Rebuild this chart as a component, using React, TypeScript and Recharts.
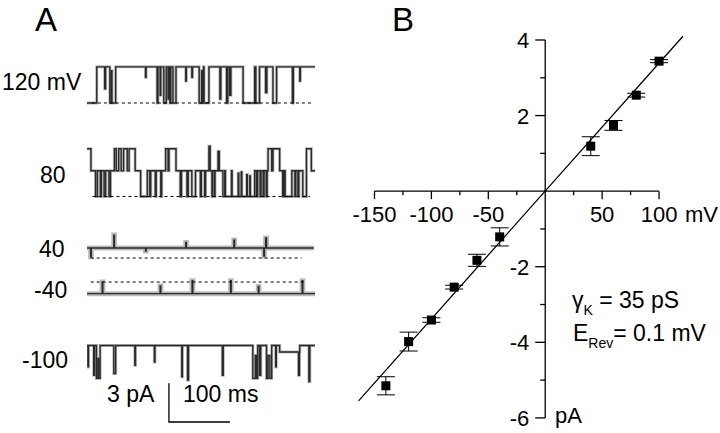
import React from 'react';
import { ComposedChart, Line, Scatter, ErrorBar, XAxis, YAxis } from 'recharts';

const FONT = '"Liberation Sans", Arial, Helvetica, sans-serif';

type Pt = [number, number];

// A: idealised single-channel records
// [time (ms), current (pA) measured from the closed level]
const trace120: Pt[] = [
  [0, 0], [16, 2.8], [29, 1.1], [30.5, 2.8], [37.5, 0], [40, 2.5], [41, 0], [47, 2.8],
  [96, 2.0], [97, 2.8], [115, 0], [116.5, 2.8], [120, 0.6], [121, 2.8], [126, 0], [130, 2.8],
  [133, 0.3], [134, 2.8], [136, 0], [137.5, 2.8], [141, 0], [146, 2.8], [162, 1.7], [163, 2.8],
  [172, 2.0], [173, 2.8], [184, 0], [188, 2.5], [189, 0], [191, 2.8], [192, 0], [200, 2.8],
  [218, 0.3], [219.5, 2.8], [229, 0], [231, 2.8], [234, 0.6], [236, 2.8], [256, 0], [275, 2.8],
  [277, 0], [283, 2.8], [293, 0.8], [295, 2.8], [305, 0], [311, 2.8], [337, 0], [338.5, 2.8],
  [349, 1.7], [350, 2.8], [374, 2.8],
];
const trace80: Pt[] = [
  [0, 3.7], [6.5, 2.0], [14, 0], [17, 2.0], [22, 0], [23.5, 2.0], [28, 0], [30.5, 2.0], [36, 0],
  [38.5, 2.0], [45, 3.7], [48, 2.0], [52, 3.7], [56, 2.0], [60, 3.7], [66, 2.0], [69, 3.7], [79, 2.0],
  [88, 0], [99, 2.0], [103, 0], [104.5, 2.0], [112, 0], [113.5, 2.0], [121, 0], [122.5, 2.0],
  [129, 3.7], [133, 2.0], [134.5, 3.7], [146, 2.0], [153, 0], [155, 2.0], [164, 0], [166, 2.0],
  [172, 0], [178, 2.0], [186, 0], [187.5, 2.0], [193, 0], [194.5, 2.0], [200, 3.9], [202, 2.0],
  [205, 0], [206, 2.0], [209, 0], [210, 2.0], [215, 3.5], [217, 2.0], [223, 0], [226, 2.0],
  [227, 0], [237, 2.0], [238, 0], [248, 1.8], [249, 0], [253, 1.9], [254, 0], [262, 1.7], [263, 0],
  [267, 1.6], [268, 0], [275, 2.0], [278, 0], [280, 2.0], [284, 0], [285.5, 2.0], [289, 0],
  [290.5, 2.0], [294, 0], [295.5, 2.0], [297, 3.7], [303, 2.0], [305, 3.7], [316, 2.0], [321, 0],
  [323, 2.0], [325, 0], [336, 2.0], [341, 0], [342.5, 2.0], [346, 0], [347.5, 2.0], [354, 0],
  [360, 3.7], [368, 2.0], [374, 2.0],
];
const trace40: Pt[] = [
  [0, 0.78], [6, 0.1], [7, 0.78], [44, 1.78], [45, 0.78], [96, 0.55], [97, 0.78], [162, 1.2],
  [163, 0.78], [241, 1.4], [242, 0.78], [290, 0.15], [291, 0.78], [293, 1.55], [294.5, 0.78],
  [372, 0.78],
];
const traceM40: Pt[] = [
  [0, -0.9], [25, 0], [26, -0.9], [120, -0.3], [121, -0.9], [172.5, 0.1], [173.5, -0.9],
  [235.5, 0.1], [236.5, -0.9], [281, -0.35], [282, -0.9], [353, 0.1], [354, -0.9], [374, -0.9],
];
const traceM100: Pt[] = [
  [0, 0], [1.5, -1.66], [2.5, 0], [11, -2.3], [12.5, 0], [15.5, -2.55], [18, -1.0], [19, -2.55],
  [21.5, 0], [44, -2.17], [47, 0], [78.5, -1.53], [79.5, 0], [110.5, -1.28], [111.5, 0],
  [155.5, -2.42], [156.5, 0], [165, -2.68], [166.5, 0], [222, -2.3], [223.5, 0], [272, -2.55],
  [276, -0.77], [278, -2.55], [280, 0], [283, -2.3], [285, 0], [294.5, -2.55], [297, -0.77],
  [300, -2.55], [303, 0], [309.5, -1.66], [310.5, 0], [316, -0.5], [347, -2.3], [348.5, -0.5],
  [349, 0], [364, -2.8], [365.5, 0], [374, 0],
];
const traces = [trace120, trace80, trace40, traceM40, traceM100];
const traceLabels = ['120 mV', '80', '40', '-40', '-100'];
// extent of the dashed closed-level lines (ms)
const closedSpans: Pt[] = [[8, 370], [9, 366], [6, 352], [6, 358]];
const scaleBarPA = 3;
const scaleBarMs = 100;

// B: single-channel I-V relation
const voltages = [-140, -120, -100, -80, -60, -40, 40, 60, 80, 100];
const currents = [-5.15, -3.98, -3.41, -2.54, -1.83, -1.21, 1.19, 1.74, 2.54, 3.44];
const sems = [0.24, 0.25, 0.06, 0.05, 0.16, 0.24, 0.25, 0.13, 0.05, 0.04];
const fitLine: Pt[] = [[-164, -5.55], [121, 4.1]];
const xTicks = [-150, -125, -100, -75, -50, -25, 25, 50, 75, 100];
const xTickLabels = [-150, -100, -50, 50, 100];
const yTicks = [-6, -5, -4, -3, -2, -1, 1, 2, 3, 4];
const yTickLabels = [-6, -4, -2, 2, 4];

// layout of panel A (chart coordinates: ms, pA)
const TRACE_BASE = [-4.65, -11.9, -16.67, -18.53, -23.45];
const BAND_WIDTH = [3, 3, 5, 5, 3];
const LABEL_POS = [
  { left: 2, cy: 82 },
  { left: 40, cy: 175 },
  { left: 39, cy: 249 },
  { left: 34, cy: 290 },
  { left: 22, cy: 360 },
];
const SCALE_T0 = 134.4;
const SCALE_I0 = -29.38;

const txt = (s: string, left: number, cy: number, size: number, extra: any = {}) => (
  <div
    style={{
      position: 'absolute', left, top: cy - size / 2, fontSize: size, lineHeight: `${size}px`,
      fontFamily: FONT, color: '#000', whiteSpace: 'nowrap', ...extra,
    }}
  >
    {s}
  </div>
);

const XTickShape = (p: any) => {
  const { cx, cy, payload } = p;
  const major = xTickLabels.includes(payload.v);
  return (
    <g>
      <line x1={cx} y1={cy} x2={cx} y2={cy + (major ? 8 : 4)} stroke="#000" strokeWidth={1.3} />
      {major && (
        <text x={cx} y={cy + 31} textAnchor="middle" fontSize={22} fontFamily={FONT} fill="#000">
          {payload.v}
        </text>
      )}
    </g>
  );
};

const YTickShape = (p: any) => {
  const { cx, cy, payload } = p;
  const major = yTickLabels.includes(payload.i);
  return (
    <g>
      <line x1={cx - (major ? 10 : 5)} y1={cy} x2={cx} y2={cy} stroke="#000" strokeWidth={1.3} />
      {major && (
        <text x={cx - 16} y={cy + 8} textAnchor="end" fontSize={22} fontFamily={FONT} fill="#000">
          {payload.i}
        </text>
      )}
    </g>
  );
};

const SquareShape = (p: any) => (
  <rect x={p.cx - 4.5} y={p.cy - 4.5} width={9} height={9} fill="#000" />
);

export default function App() {
  const ivData = voltages.map((v, k) => ({ v, i: currents[k], err: sems[k] }));
  const fitData = fitLine.map(([v, i]) => ({ v, i }));
  const xAxisLine = [{ v: -150, i: 0 }, { v: 100, i: 0 }];
  const yAxisLine = [{ v: 0, i: -6 }, { v: 0, i: 4 }];
  const scaleBar = [
    { t: SCALE_T0, i: SCALE_I0 + scaleBarPA },
    { t: SCALE_T0, i: SCALE_I0 },
    { t: SCALE_T0 + scaleBarMs, i: SCALE_I0 },
  ];

  return (
    <div style={{ position: 'absolute', left: 0, top: 0, width: 720, height: 433, background: '#fff', overflow: 'hidden' }}>
      {/* Panel A */}
      {txt('A', 35, 19, 33)}
      {traceLabels.map((l, k) => (
        <React.Fragment key={l}>{txt(l, LABEL_POS[k].left, LABEL_POS[k].cy, 23)}</React.Fragment>
      ))}
      {txt('3 pA', 107, 394, 23)}
      {txt('100 ms', 183, 394, 23)}
      <div style={{ position: 'absolute', left: 87, top: 43 }}>
        <ComposedChart width={228} height={387} margin={{ top: 0, right: 0, bottom: 0, left: 0 }}>
          <XAxis type="number" dataKey="t" domain={[0, 374]} hide allowDataOverflow />
          <YAxis type="number" dataKey="i" domain={[-30, 0]} hide allowDataOverflow />
          {traces.map((tr, k) => (
            <Line
              key={`band-${k}`}
              data={tr.map(([t, i]) => ({ t, i: i + TRACE_BASE[k] }))}
              dataKey="i"
              type="stepAfter"
              dot={false}
              stroke="#8c8c8c"
              strokeOpacity={0.6}
              strokeWidth={BAND_WIDTH[k]}
              isAnimationActive={false}
            />
          ))}
          {traces.map((tr, k) => (
            <Line
              key={`trace-${k}`}
              data={tr.map(([t, i]) => ({ t, i: i + TRACE_BASE[k] }))}
              dataKey="i"
              type="stepAfter"
              dot={false}
              stroke="#2a2a2a"
              strokeWidth={1.4}
              isAnimationActive={false}
            />
          ))}
          {closedSpans.map(([a, b], k) => (
            <Line
              key={`closed-${k}`}
              data={[{ t: a, i: TRACE_BASE[k] }, { t: b, i: TRACE_BASE[k] }]}
              dataKey="i"
              type="linear"
              dot={false}
              stroke="#000"
              strokeWidth={1}
              strokeDasharray="3 3"
              isAnimationActive={false}
            />
          ))}
          <Line data={scaleBar} dataKey="i" type="linear" dot={false} stroke="#000" strokeWidth={1.3} isAnimationActive={false} />
        </ComposedChart>
      </div>

      {/* Panel B */}
      {txt('B', 392, 19, 33)}
      <div style={{ position: 'absolute', left: 335, top: 20 }}>
        <ComposedChart width={355} height={410} margin={{ top: 0, right: 0, bottom: 0, left: 0 }}>
          <XAxis type="number" dataKey="v" domain={[-184.7, 127.2]} hide allowDataOverflow />
          <YAxis type="number" dataKey="i" domain={[-6.32, 4.529]} hide allowDataOverflow />
          <Line data={xAxisLine} dataKey="i" type="linear" dot={false} stroke="#000" strokeWidth={1.3} isAnimationActive={false} />
          <Line data={yAxisLine} dataKey="i" type="linear" dot={false} stroke="#000" strokeWidth={1.3} isAnimationActive={false} />
          <Scatter data={xTicks.map((v) => ({ v, i: 0 }))} dataKey="i" shape={XTickShape} isAnimationActive={false} />
          <Scatter data={yTicks.map((i) => ({ v: 0, i }))} dataKey="i" shape={YTickShape} isAnimationActive={false} />
          <Line data={fitData} dataKey="i" type="linear" dot={false} stroke="#000" strokeWidth={1.3} isAnimationActive={false} />
          <Scatter data={ivData} dataKey="i" shape={SquareShape} isAnimationActive={false}>
            <ErrorBar dataKey="err" direction="y" width={9} stroke="#000" strokeWidth={1} />
          </Scatter>
        </ComposedChart>
      </div>
      {txt('mV', 685, 215, 22)}
      {txt('pA', 555, 416, 22)}
      <div style={{ position: 'absolute', left: 572, top: 300 - 11.5, fontSize: 23, lineHeight: '23px', fontFamily: FONT, whiteSpace: 'nowrap' }}>
        γ<span style={{ fontSize: 14, position: 'relative', top: 7 }}>K</span> = 35 pS
      </div>
      <div style={{ position: 'absolute', left: 573, top: 333 - 11.5, fontSize: 23, lineHeight: '23px', fontFamily: FONT, whiteSpace: 'nowrap' }}>
        E<span style={{ fontSize: 14, position: 'relative', top: 7 }}>Rev</span>= 0.1 mV
      </div>
    </div>
  );
}
